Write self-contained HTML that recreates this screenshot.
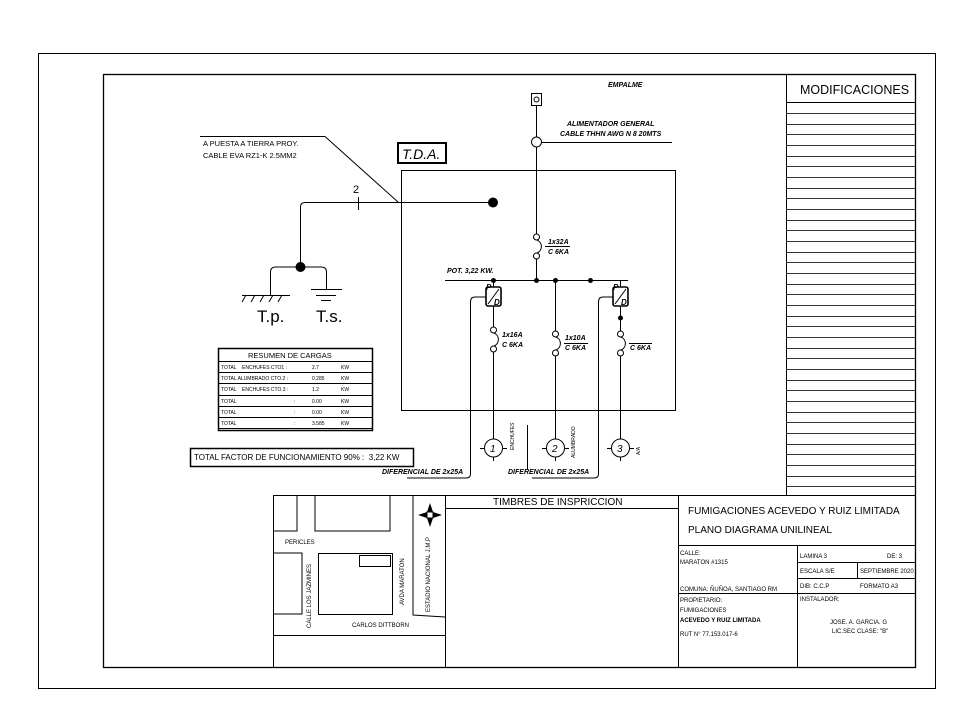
<!DOCTYPE html>
<html><head><meta charset="utf-8"><style>
body{margin:0;background:#fff}
svg{display:block}
text{font-family:"Liberation Sans",sans-serif;fill:#000}
.bi{font-style:italic;font-weight:bold;font-family:"Liberation Serif",serif}
</style></head><body>
<svg width="967" height="724" viewBox="0 0 967 724" xmlns="http://www.w3.org/2000/svg">
<rect width="967" height="724" fill="#fff"/>
<g fill="none" stroke="#000" stroke-width="1">
<rect x="38.5" y="53.5" width="897" height="635"/>
<rect x="103.5" y="74.5" width="812" height="593" stroke-width="1.3"/>
<line x1="786.5" y1="74" x2="786.5" y2="495"/>
<line x1="786" y1="102.5" x2="915" y2="102.5"/>
</g>
<text x="800" y="94" font-size="12.5">MODIFICACIONES</text>

<g fill="none" stroke="#000" stroke-width="1">
<line x1="273" y1="495.5" x2="915" y2="495.5"/>
<line x1="273.5" y1="495" x2="273.5" y2="667"/>
<line x1="445.5" y1="495" x2="445.5" y2="667"/>
<line x1="678.5" y1="495" x2="678.5" y2="667"/>
<line x1="445" y1="508.5" x2="678" y2="508.5"/>
<line x1="678" y1="545.5" x2="915" y2="545.5"/>
<line x1="797.5" y1="545" x2="797.5" y2="667"/>
<line x1="797" y1="562.5" x2="915" y2="562.5"/>
<line x1="797" y1="578.5" x2="915" y2="578.5"/>
<line x1="857.5" y1="562" x2="857.5" y2="578"/>
<line x1="678" y1="593.5" x2="915" y2="593.5"/>
<polyline points="273,531 297,531 297,495"/>
<polyline points="315,495 315,531 390,531 390,495"/>
<polyline points="273,553 302,553 302,614 273,614"/>
<rect x="318.5" y="553.5" width="74" height="61"/>
<rect x="359.5" y="555.5" width="31" height="11"/>
<polyline points="413,495 413,615 445,617"/>
<line x1="273" y1="635.5" x2="445" y2="635.5"/>
</g>
<g transform="translate(430,515)">
<polygon points="0,-12 3,-3 12,0 3,3 0,12 -3,3 -12,0 -3,-3" fill="#000"/>
<rect x="-3" y="-3" width="6" height="6" fill="#fff" stroke="#000"/>
</g>
<g font-size="6">
<text x="285" y="544">PERICLES</text>
<text x="352" y="627">CARLOS DITTBORN</text>
<text transform="translate(311,628) rotate(-90)">CALLE LOS JAZMINES</text>
<text transform="translate(404,605) rotate(-90)">AVDA MARATON</text>
<text transform="translate(430,612) rotate(-90)">ESTADIO NACIONAL J.M.P</text>
</g>
<text x="493" y="505" font-size="10">TIMBRES DE INSPRICCION</text>
<text x="688" y="514" font-size="10">FUMIGACIONES ACEVEDO Y RUIZ LIMITADA</text>
<text x="688" y="533" font-size="10">PLANO DIAGRAMA UNILINEAL</text>
<g font-size="6">
<text x="680" y="555">CALLE:</text>
<text x="680" y="564">MARATON #1315</text>
<text x="680" y="591">COMUNA: ÑUÑOA, SANTIAGO RM</text>
<text x="680" y="602">PROPIETARIO:</text>
<text x="680" y="612">FUMIGACIONES</text>
<text x="680" y="622" font-weight="bold">ACEVEDO Y RUIZ LIMITADA</text>
<text x="680" y="636">RUT N° 77.153.017-6</text>
<text x="800" y="558">LAMINA 3</text>
<text x="887" y="558">DE: 3</text>
<text x="800" y="573">ESCALA S/E</text>
<text x="860" y="573">SEPTIEMBRE 2020</text>
<text x="800" y="588">DIB: C.C.P</text>
<text x="860" y="588">FORMATO A3</text>
<text x="800" y="601">INSTALADOR:</text>
<text x="830" y="624">JOSE. A. GARCIA. G</text>
<text x="832" y="633">LIC.SEC CLASE: "B"</text>
</g>

<g fill="none" stroke="#000" stroke-width="1">
<rect x="401.5" y="170.5" width="274" height="240"/>
<rect x="398" y="143" width="48" height="20" stroke-width="2"/>
<rect x="531.5" y="93.5" width="10" height="12"/>
<circle cx="536.5" cy="99.5" r="2.5"/>
<line x1="536.5" y1="106" x2="536.5" y2="137"/>
<circle cx="536.5" cy="142" r="5"/>
<line x1="541" y1="142.5" x2="672" y2="142.5"/>
<line x1="536.5" y1="147" x2="536.5" y2="234"/>
<circle cx="536.5" cy="237" r="3"/>
<path d="M537,240 a7,7 0 0 1 0,13"/>
<line x1="545" y1="246.5" x2="570" y2="246.5"/>
<circle cx="536.5" cy="256" r="3"/>
<line x1="536.5" y1="259" x2="536.5" y2="280"/>
<line x1="445" y1="280.5" x2="628" y2="280.5"/>
<path d="M493,202.5 H305 Q300.5,202.5 300.5,207 V267"/>
<line x1="358.5" y1="197" x2="358.5" y2="210"/>
<path d="M270.5,295 V272 Q270.5,267 276,267 H321 Q326.5,267 326.5,272 V290"/>
<line x1="242" y1="295.5" x2="290" y2="295.5"/>
<line x1="242" y1="302" x2="246" y2="295"/><line x1="251" y1="302" x2="255" y2="295"/><line x1="260" y1="302" x2="264" y2="295"/><line x1="269" y1="302" x2="273" y2="295"/><line x1="278" y1="302" x2="282" y2="295"/>
<line x1="311" y1="289.5" x2="342" y2="289.5"/>
<line x1="316" y1="295.5" x2="336" y2="295.5"/>
<line x1="321" y1="300.5" x2="331" y2="300.5"/>
<polyline points="200,136.5 325,136.5 398,202"/>
<line x1="493.5" y1="280" x2="493.5" y2="287"/>
<rect x="486" y="287" width="15" height="19" rx="2" stroke-width="1.6"/>
<line x1="493.5" y1="306" x2="493.5" y2="327"/>
<circle cx="493.5" cy="330" r="3"/>
<path d="M494,333 a7,7 0 0 1 0,13"/>
<circle cx="493.5" cy="349" r="3"/>
<line x1="493.5" y1="352" x2="493.5" y2="439"/>
<circle cx="493.5" cy="448" r="9"/>
<line x1="480" y1="448.5" x2="484" y2="448.5"/><line x1="503" y1="448.5" x2="507" y2="448.5"/><line x1="493.5" y1="457" x2="493.5" y2="461"/>
<path d="M486,297 H475 Q470.5,297 470.5,302 V474 Q470.5,478 466,478 H407"/>
<line x1="555.5" y1="280" x2="555.5" y2="331"/>
<circle cx="555.5" cy="334" r="3"/>
<path d="M556,337 a7,7 0 0 1 0,13"/>
<line x1="564" y1="343.5" x2="588" y2="343.5"/>
<circle cx="555.5" cy="353" r="3"/>
<line x1="555.5" y1="356" x2="555.5" y2="439"/>
<circle cx="555.5" cy="448" r="9"/>
<line x1="542" y1="448.5" x2="546" y2="448.5"/><line x1="565" y1="448.5" x2="569" y2="448.5"/><line x1="555.5" y1="457" x2="555.5" y2="461"/>
<line x1="527.5" y1="425" x2="527.5" y2="470"/>
<line x1="620.5" y1="280" x2="620.5" y2="287"/>
<rect x="613" y="287" width="15" height="19" rx="2" stroke-width="1.6"/>
<line x1="620.5" y1="306" x2="620.5" y2="331"/>
<circle cx="620.5" cy="334" r="3"/>
<path d="M621,337 a7,7 0 0 1 0,13"/>
<line x1="629" y1="343.5" x2="652" y2="343.5"/>
<circle cx="620.5" cy="353" r="3"/>
<line x1="620.5" y1="356" x2="620.5" y2="439"/>
<circle cx="620.5" cy="448" r="9"/>
<line x1="607" y1="448.5" x2="611" y2="448.5"/><line x1="630" y1="448.5" x2="634" y2="448.5"/><line x1="620.5" y1="457" x2="620.5" y2="461"/>
<path d="M613,297 H603 Q598.5,297 598.5,302 V474 Q598.5,478 594,478 H532"/>
<line x1="488" y1="304" x2="499" y2="289"/>
<line x1="615" y1="304" x2="626" y2="289"/>
</g>
<g fill="#000">
<circle cx="493" cy="202.5" r="5"/>
<circle cx="300.5" cy="267" r="5"/>
<circle cx="493.5" cy="280.5" r="2.5"/><circle cx="536.5" cy="280.5" r="2.5"/><circle cx="555.5" cy="280.5" r="2.5"/><circle cx="590.5" cy="280.5" r="2.5"/>
<circle cx="620.5" cy="318" r="2.5"/>
</g>
<text x="402" y="159" font-size="14" font-style="italic" font-family="Liberation Serif,serif">T.D.A.</text>
<g class="bi" font-size="7">
<text x="608" y="87">EMPALME</text>
<text x="567" y="126">ALIMENTADOR GENERAL</text>
<text x="560" y="136">CABLE THHN AWG N 8 20MTS</text>
<text x="447" y="273">POT. 3,22 KW.</text>
<text x="548" y="244">1x32A</text><text x="548" y="254">C 6KA</text>
<text x="502" y="337">1x16A</text><text x="502" y="347">C 6KA</text>
<text x="565" y="340">1x10A</text><text x="565" y="350">C 6KA</text>
<text x="630" y="350">C 6KA</text>
<text x="382" y="474">DIFERENCIAL DE 2x25A</text>
<text x="508" y="474">DIFERENCIAL DE 2x25A</text>
<text x="486" y="290" font-size="8">P</text><text x="494" y="305" font-size="8">D</text>
<text x="613" y="290" font-size="8">P</text><text x="621" y="305" font-size="8">D</text>
</g>
<g font-size="10" font-style="italic" font-family="Liberation Serif,serif">
<text x="490" y="452">1</text><text x="552" y="452">2</text><text x="617" y="452">3</text>
</g>
<g font-size="5">
<text transform="translate(514,450) rotate(-90)">ENCHUFES</text>
<text transform="translate(575,458) rotate(-90)">ALUMBRADO</text>
<text transform="translate(640,455) rotate(-90)">A/A</text>
</g>
<text x="203" y="146" font-size="7.5">A PUESTA A TIERRA PROY.</text>
<text x="203" y="158" font-size="7.5">CABLE EVA RZ1-K 2.5MM2</text>
<text x="353" y="193" font-size="11" fill="#444">2</text>
<text x="257" y="322" font-size="17" fill="#222">T.p.</text>
<text x="316" y="322" font-size="17" fill="#222">T.s.</text>
<g fill="none" stroke="#000">
<rect x="218.5" y="348.5" width="154" height="82" stroke-width="1.5"/>
<line x1="219" y1="361.5" x2="372" y2="361.5"/>
<line x1="219" y1="372.5" x2="372" y2="372.5"/>
<line x1="219" y1="383.5" x2="372" y2="383.5"/>
<line x1="219" y1="395.5" x2="372" y2="395.5"/>
<line x1="219" y1="406.5" x2="372" y2="406.5"/>
<line x1="219" y1="417.5" x2="372" y2="417.5"/>
<line x1="219" y1="428.5" x2="372" y2="428.5"/>
<rect x="190.5" y="448.5" width="223" height="18" stroke-width="1.5"/>
</g>
<text x="248" y="358" font-size="7.5">RESUMEN DE CARGAS</text>
<g font-size="5">
<text x="221" y="369">TOTAL &#160;&#160;&#160;ENCHUFES CTO1 :</text><text x="312" y="369">2.7</text><text x="341" y="369">KW</text>
<text x="221" y="380">TOTAL ALUMBRADO CTO.2 :</text><text x="312" y="380">0.285</text><text x="341" y="380">KW</text>
<text x="221" y="391">TOTAL &#160;&#160;&#160;ENCHUFES CTO.3 :</text><text x="312" y="391">1.2</text><text x="341" y="391">KW</text>
<text x="221" y="403">TOTAL</text><text x="294" y="403">:</text><text x="312" y="403">0.00</text><text x="341" y="403">KW</text>
<text x="221" y="414">TOTAL</text><text x="294" y="414">:</text><text x="312" y="414">0.00</text><text x="341" y="414">KW</text>
<text x="221" y="425">TOTAL</text><text x="294" y="425">:</text><text x="312" y="425">3.585</text><text x="341" y="425">KW</text>
</g>
<text x="194" y="460" font-size="8">TOTAL FACTOR DE FUNCIONAMIENTO 90% : &#160;3,22 KW</text>
<g stroke="#333" stroke-width="1">
<line x1="786" x2="915" y1="113.5" y2="113.5"/><line x1="786" x2="915" y1="124.5" y2="124.5"/><line x1="786" x2="915" y1="134.5" y2="134.5"/><line x1="786" x2="915" y1="145.5" y2="145.5"/><line x1="786" x2="915" y1="156.5" y2="156.5"/><line x1="786" x2="915" y1="166.5" y2="166.5"/><line x1="786" x2="915" y1="177.5" y2="177.5"/><line x1="786" x2="915" y1="188.5" y2="188.5"/><line x1="786" x2="915" y1="198.5" y2="198.5"/><line x1="786" x2="915" y1="209.5" y2="209.5"/><line x1="786" x2="915" y1="220.5" y2="220.5"/><line x1="786" x2="915" y1="230.5" y2="230.5"/><line x1="786" x2="915" y1="241.5" y2="241.5"/><line x1="786" x2="915" y1="252.5" y2="252.5"/><line x1="786" x2="915" y1="262.5" y2="262.5"/><line x1="786" x2="915" y1="273.5" y2="273.5"/><line x1="786" x2="915" y1="284.5" y2="284.5"/><line x1="786" x2="915" y1="294.5" y2="294.5"/><line x1="786" x2="915" y1="305.5" y2="305.5"/><line x1="786" x2="915" y1="316.5" y2="316.5"/><line x1="786" x2="915" y1="326.5" y2="326.5"/><line x1="786" x2="915" y1="337.5" y2="337.5"/><line x1="786" x2="915" y1="348.5" y2="348.5"/><line x1="786" x2="915" y1="358.5" y2="358.5"/><line x1="786" x2="915" y1="369.5" y2="369.5"/><line x1="786" x2="915" y1="380.5" y2="380.5"/><line x1="786" x2="915" y1="390.5" y2="390.5"/><line x1="786" x2="915" y1="401.5" y2="401.5"/><line x1="786" x2="915" y1="412.5" y2="412.5"/><line x1="786" x2="915" y1="422.5" y2="422.5"/><line x1="786" x2="915" y1="433.5" y2="433.5"/><line x1="786" x2="915" y1="444.5" y2="444.5"/><line x1="786" x2="915" y1="454.5" y2="454.5"/><line x1="786" x2="915" y1="465.5" y2="465.5"/><line x1="786" x2="915" y1="476.5" y2="476.5"/><line x1="786" x2="915" y1="486.5" y2="486.5"/>
</g>
</svg>
</body></html>
